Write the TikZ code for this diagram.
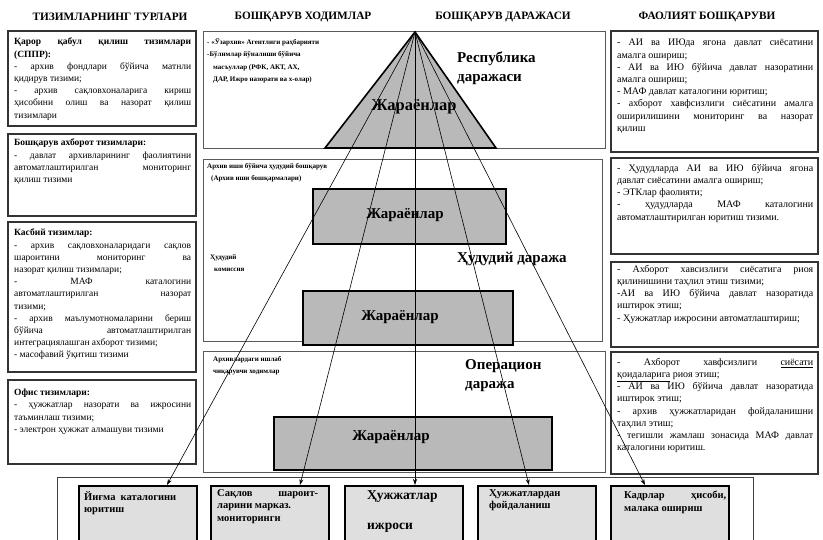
\documentclass[tikz,border=0pt]{standalone}
\usepackage{fontspec}
\setmainfont{Liberation Serif}
\usetikzlibrary{arrows.meta}
\tikzset{
  hdr/.style={font=\bfseries\fontsize{11.3}{13}\selectfont, inner sep=0pt},
  sbox/.style={draw=black!80, line width=1.1pt},
  rbox/.style={draw=black!65, line width=0.8pt},
  btxt/.style={anchor=north west, inner sep=0pt, align=justify, font=\fontsize{9.5}{12.2}\selectfont},
  rtxt/.style={anchor=north west, inner sep=0pt, align=justify, font=\fontsize{10}{12.2}\selectfont},
  gproc/.style={draw=black, line width=1.6pt, fill=gray!55},
  plbl/.style={font=\bfseries\fontsize{15}{17}\selectfont, inner sep=0pt},
  lvl/.style={font=\bfseries\fontsize{15}{19}\selectfont, align=left, anchor=north west, inner sep=0pt},
  staff/.style={font=\bfseries\fontsize{7}{12.5}\selectfont, align=left, anchor=north west, inner sep=0pt},
  outerbox/.style={draw=black!75, line width=0.9pt},
  fbox/.style={draw=black, line width=1.8pt, fill=gray!25, anchor=north west, minimum width=118pt, minimum height=80pt, inner sep=0pt},
  ftxt/.style={anchor=north west, inner sep=0pt, align=justify, font=\bfseries\fontsize{10.5}{12.5}\selectfont},
  fan/.style={line width=0.6pt, -{Stealth[length=6pt,width=4pt]}}
}
\begin{document}
\begin{tikzpicture}[x=1pt,y=-1pt]
\useasboundingbox (0,0) rectangle (823,540);
\fill[white] (0,0) rectangle (823,540);

% headers
\node[hdr] (h1) at (110,17) {ТИЗИМЛАРНИНГ ТУРЛАРИ};
\node[hdr] (h2) at (303,17) {БОШҚАРУВ ХОДИМЛАР};
\node[hdr] (h3) at (503,17) {БОШҚАРУВ ДАРАЖАСИ};
\node[hdr] (h4) at (707,17) {ФАОЛИЯТ БОШҚАРУВИ};

% left boxes
\draw[sbox] (8,31) rectangle (196,126);
\draw[sbox] (8,134) rectangle (196,216);
\draw[sbox] (8,222) rectangle (196,372);
\draw[sbox] (8,380) rectangle (196,464);

\node[btxt, text width=177pt] (l1) at (14,38) {{\bfseries Қарор қабул қилиш тизимлари\linebreak (СППР):}\\
- архив фондлари бўйича матнли\linebreak қидирув тизими;\\
- архив сақловхоналарига кириш\linebreak ҳисобини олиш ва назорат қилиш\linebreak тизимлари};

\node[btxt, text width=177pt] (l2) at (14,139) {{\bfseries Бошқарув ахборот тизимлари:}\\
- давлат архивларининг фаолиятини\linebreak автоматлаштирилган мониторинг\linebreak қилиш тизими};

\node[btxt, text width=177pt] (l3) at (14,229) {{\bfseries Касбий тизимлар:}\\
- архив сақловхоналаридаги сақлов\linebreak шароитини мониторинг ва\linebreak назорат қилиш тизимлари;\\
- МАФ каталогини\linebreak автоматлаштирилган назорат\linebreak тизими;\\
- архив маълумотномаларини бериш\linebreak бўйича автоматлаштирилган\linebreak интеграциялашган ахборот тизими;\\
- масофавий ўқитиш тизими};

\node[btxt, text width=177pt] (l4) at (14,389) {{\bfseries Офис тизимлари:}\\
- ҳужжатлар назорати ва ижросини\linebreak таъминлаш тизими;\\
- электрон ҳужжат алмашуви тизими};

% middle regions
\draw[rbox] (203,31) rectangle (605,148);
\draw[rbox] (203,159) rectangle (602,341);
\draw[rbox] (203,351) rectangle (605,472);

% right boxes
\draw[sbox] (611,31) rectangle (818,152);
\draw[sbox] (611,158) rectangle (818,254);
\draw[sbox] (611,262) rectangle (818,347);
\draw[sbox] (611,352) rectangle (818,474);

\node[rtxt, text width=196pt] (r1) at (617,39) {- АИ ва ИЮда ягона давлат сиёсатини\linebreak амалга ошириш;\\
- АИ ва ИЮ бўйича давлат назоратини\linebreak амалга ошириш;\\
- МАФ давлат каталогини юритиш;\\
- ахборот хавфсизлиги сиёсатини амалга\linebreak оширилишини мониторинг ва назорат\linebreak қилиш};

\node[rtxt, text width=196pt] (r2) at (617,164) {- Ҳудудларда АИ ва ИЮ бўйича ягона\linebreak давлат сиёсатини амалга ошириш;\\
- ЭТКлар фаолияти;\\
- ҳудудларда МАФ каталогини\linebreak автоматлаштирилган юритиш тизими.};

\node[rtxt, text width=196pt] (r3) at (617,265) {- Ахборот хавсизлиги сиёсатига риоя\linebreak қилинишини таҳлил этиш тизими;\\
-АИ ва ИЮ бўйича давлат назоратида\linebreak иштирок этиш;\\
- Ҳужжатлар ижросини автоматлаштириш;};

\node[rtxt, text width=196pt] (r4) at (617,358) {- Ахборот хавфсизлиги \underline{сиёсати}\linebreak \underline{қоидаларига} риоя этиш;\\
- АИ ва ИЮ бўйича давлат назоратида\linebreak иштирок этиш;\\
- архив ҳужжатларидан фойдаланишни\linebreak таҳлил этиш;\\
- тегишли жамлаш зонасида МАФ давлат\linebreak каталогини юритиш.};

% pyramid and process blocks
\coordinate (apex) at (415,32);
\draw[gproc] (apex) -- (496,148) -- (325,148) -- cycle;
\node[plbl, font=\bfseries\fontsize{16.5}{18}\selectfont] (p1) at (414,107) {Жараёнлар};
\node[gproc, minimum width=193pt, minimum height=55pt, inner sep=0pt] (pr2) at (409.5,216.5) {};
\node[plbl] (p2) at (405,215) {Жараёнлар};
\node[gproc, minimum width=210pt, minimum height=54pt, inner sep=0pt] (pr3) at (408,318) {};
\node[plbl] (p3) at (400,317) {Жараёнлар};
\node[gproc, minimum width=278pt, minimum height=53pt, inner sep=0pt] (pr4) at (413,443.5) {};
\node[plbl] (p4) at (391,437) {Жараёнлар};

% staff texts
\node[staff] (s1) at (207,38) {- «Ўзархив» Агентлиги раҳбарияти\\-Бўлимлар йўналиши бўйича\\\hspace*{6pt}масъуллар (РФК, АКТ, АХ,\\\hspace*{6pt}ДАР, Ижро назорати ва х-олар)};
\node[staff] (s2) at (207,163) {Архив иши бўйича ҳудудий бошқарув\\\hspace*{4pt}(Архив иши бошқармалари)};
\node[staff] (s3) at (210,254) {Ҳудудий\\\hspace*{4pt}комиссия};
\node[staff] (s4) at (213,356) {Архивлардаги ишлаб\\чиқарувчи ходимлар};

% level labels
\node[lvl] (v1) at (457,52) {Республика\\даражаси};
\node[lvl] (v2) at (457,252) {Ҳудудий даража};
\node[lvl] (v3) at (465,359) {Операцион\\даража};

% bottom function boxes
\draw[outerbox] (57,477) rectangle (753,560);
\node[fbox] (b1) at (78,485) {};
\node[fbox] (b2) at (210,485) {};
\node[fbox] (b3) at (344,485) {};
\node[fbox] (b4) at (477,485) {};
\node[fbox] (b5) at (610,485) {};
\node[ftxt, text width=92pt] (t1) at (84,491) {Йиғма каталогини\linebreak юритиш};
\node[ftxt, text width=101pt] (t2) at (217,489) {Сақлов шароит-\linebreak ларини марказ.\\мониторинги};
\node[ftxt, font=\bfseries\fontsize{13.5}{30}\selectfont, align=left] (t3) at (367,490) {Ҳужжатлар\\ижроси};
\node[ftxt, text width=100pt, align=left] (t4) at (489,489) {Ҳужжатлардан\\фойдаланиш};
\node[ftxt, text width=102pt] (t5) at (624,491) {Кадрлар ҳисоби,\linebreak малака ошириш};

% fan connectors
\coordinate (e1) at (167,485);
\coordinate (e2) at (300,485);
\coordinate (e3) at (415,485);
\coordinate (e4) at (529,485);
\coordinate (e5) at (645,485);
\foreach \e in {e1,e2,e3,e4,e5} \draw[fan] (apex) -- (\e);
\end{tikzpicture}
\end{document}
